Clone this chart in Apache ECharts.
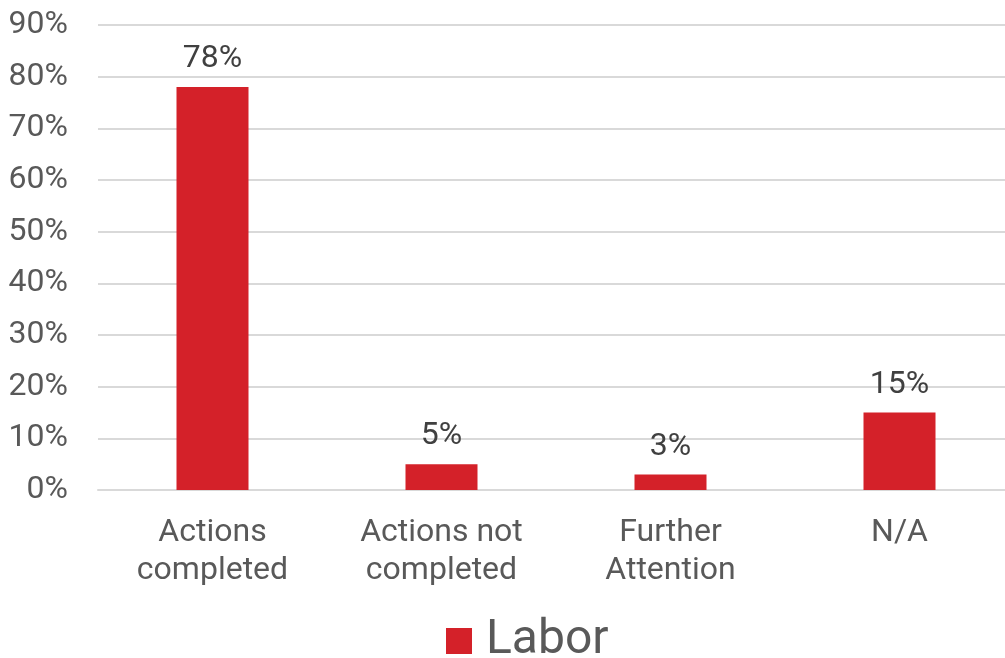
<!DOCTYPE html>
<html><head><meta charset="utf-8">
<script src="https://cdn.jsdelivr.net/npm/echarts@6/dist/echarts.min.js"></script>
<style>html,body{margin:0;padding:0;background:#fff}#c{width:1005px;height:658px}</style>
</head><body><div id="c"></div>
<script>
const categories = ['Actions\ncompleted', 'Actions not\ncompleted', 'Further\nAttention', 'N/A'];
const seriesName = 'Labor';
const values = [78, 5, 3, 15];
const yTicks = [0, 10, 20, 30, 40, 50, 60, 70, 80, 90];

const chart = echarts.init(document.getElementById('c'));
const textColor = '#595959';
const font = 'Roboto';
chart.setOption({
  animation: false,
  grid: { left: 98, width: 916, top: 25, bottom: 168, containLabel: false, outerBoundsMode: 'none' },
  legend: {
    bottom: -7, left: 446,
    data: [seriesName],
    icon: 'rect', itemWidth: 26, itemHeight: 26, itemGap: 10, padding: 0,
    textStyle: { fontFamily: font, fontSize: 48, color: textColor, padding: [0, 0, 0, 9] }
  },
  xAxis: {
    type: 'category', data: categories,
    axisLine: { show: true, lineStyle: { color: '#D9D9D9', width: 2 } },
    axisTick: { show: false },
    axisLabel: { fontFamily: font, fontSize: 32, color: textColor, lineHeight: 38, margin: 24 }
  },
  yAxis: {
    type: 'value', min: yTicks[0], max: yTicks[yTicks.length - 1], interval: 10,
    axisLine: { show: false }, axisTick: { show: false },
    splitLine: { lineStyle: { color: '#D9D9D9', width: 2 } },
    axisLabel: { fontFamily: font, fontSize: 32, color: textColor, margin: 30, formatter: '{value}%' }
  },
  series: [{
    name: seriesName, type: 'bar', data: values, barWidth: 72,
    itemStyle: { color: '#D42129' },
    label: { show: true, position: 'top', distance: 12, fontFamily: font, fontSize: 32, color: '#404040', formatter: '{c}%' }
  }]
});
</script></body></html>
